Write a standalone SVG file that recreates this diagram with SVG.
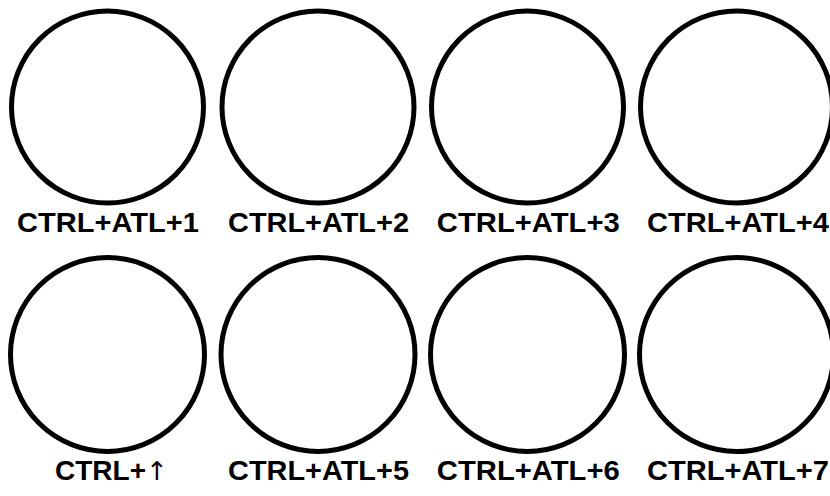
<svg xmlns="http://www.w3.org/2000/svg" width="830" height="496" viewBox="0 0 830 496">
<style>
.c{fill:none;stroke:#000;stroke-width:5}
.t{font-family:"Liberation Sans",Arial,sans-serif;font-weight:bold;font-size:28px;fill:#000;text-anchor:middle}
.a{font-family:"DejaVu Sans",sans-serif;font-weight:normal;font-size:26px}
</style>
<rect width="830" height="496" fill="#fff"/>
<g id="connectors"/>
<g id="n1"><circle class="c" cx="107.5" cy="107" r="96"/><text class="t" x="108" y="232" textLength="182" lengthAdjust="spacingAndGlyphs">CTRL+ATL+1</text></g>
<g id="n2"><circle class="c" cx="318" cy="107" r="96"/><text class="t" x="318.5" y="232" textLength="181" lengthAdjust="spacingAndGlyphs">CTRL+ATL+2</text></g>
<g id="n3"><circle class="c" cx="527.5" cy="107" r="96"/><text class="t" x="528.3" y="232" textLength="183" lengthAdjust="spacingAndGlyphs">CTRL+ATL+3</text></g>
<g id="n4"><circle class="c" cx="736.5" cy="107" r="96"/><text class="t" x="738" y="232" textLength="182" lengthAdjust="spacingAndGlyphs">CTRL+ATL+4</text></g>
<g id="n5"><circle class="c" cx="107.5" cy="354.5" r="97"/><text class="t" x="55" y="480" style="text-anchor:start">CTRL+<tspan class="a">↑</tspan></text></g>
<g id="n6"><circle class="c" cx="318" cy="354.5" r="97"/><text class="t" x="318.5" y="480" textLength="181" lengthAdjust="spacingAndGlyphs">CTRL+ATL+5</text></g>
<g id="n7"><circle class="c" cx="527.5" cy="354.5" r="97"/><text class="t" x="528.3" y="480" textLength="183" lengthAdjust="spacingAndGlyphs">CTRL+ATL+6</text></g>
<g id="n8"><circle class="c" cx="736.5" cy="354.5" r="97"/><text class="t" x="738" y="480" textLength="182" lengthAdjust="spacingAndGlyphs">CTRL+ATL+7</text></g>
</svg>
